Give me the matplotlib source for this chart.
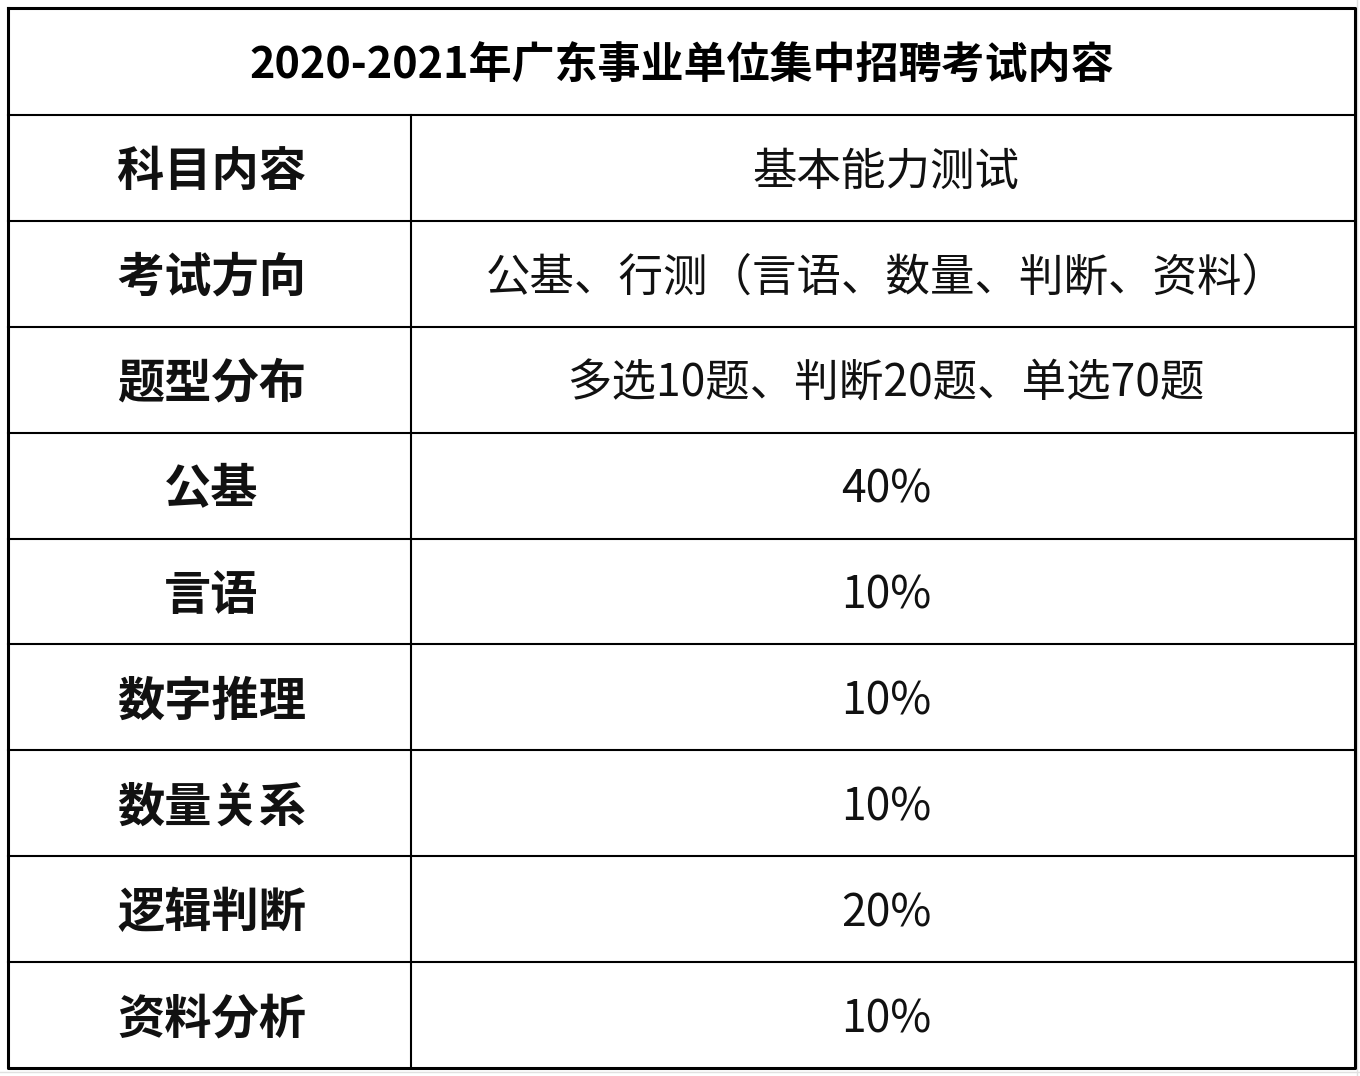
import matplotlib
matplotlib.use("Agg")
import matplotlib.pyplot as plt
from matplotlib import font_manager as fm

title = "2020-2021年广东事业单位集中招聘考试内容"
row_labels = ["科目内容", "考试方向", "题型分布", "公基", "言语", "数字推理", "数量关系", "逻辑判断", "资料分析"]
row_values = ["基本能力测试", "公基、行测（言语、数量、判断、资料）", "多选10题、判断20题、单选70题",
              "40%", "10%", "10%", "10%", "20%", "10%"]

cands = [f.name for f in fm.fontManager.ttflist if "CJK" in f.name]
pref = [n for n in ["Noto Sans CJK SC", "Noto Sans CJK JP", "Noto Sans CJK TC", "Noto Sans CJK KR"] if n in cands]
fams = pref + [n for n in cands if n not in pref] + ["DejaVu Sans"]

W, H = 1360, 1076
fig = plt.figure(figsize=(W/100, H/100), dpi=100)
ax = fig.add_axes([0, 0, 1, 1])
ax.set_xlim(0, W); ax.set_ylim(H, 0); ax.axis("off")

left, right, top, bottom = 8, 1355, 8, 1068
title_bottom = 115
div = 411
n = len(row_labels)
rh = (bottom - title_bottom) / n

ax.plot([1357, 1357], [0, H], color="#e0e0e0", lw=1)
ax.plot([0, W], [1072, 1072], color="#e0e0e0", lw=1)

ax.plot([left, right, right, left, left], [top, top, bottom, bottom, top], color="black", lw=2.2)
ax.plot([left, right], [title_bottom, title_bottom], color="black", lw=1.5)
for i in range(1, n):
    y = title_bottom + i * rh
    ax.plot([left, right], [y, y], color="black", lw=1.5)
ax.plot([div, div], [title_bottom, bottom], color="black", lw=1.5)

ax.text((left + right) / 2, (top + title_bottom) / 2 + 4, title, ha="center", va="center",
        fontsize=31, fontweight="bold", family=fams)
for i, (lab, val) in enumerate(zip(row_labels, row_values)):
    yc = title_bottom + (i + 0.5) * rh + 4
    ax.text((left + div) / 2 + 2, yc, lab, ha="center", va="center", fontsize=34,
            fontweight="bold", family=fams, color="#111111")
    ax.text((div + right) / 2 + 3, yc, val, ha="center", va="center", fontsize=32,
            family=fams, color="#111111")

fig.savefig("out.png", dpi=100)
